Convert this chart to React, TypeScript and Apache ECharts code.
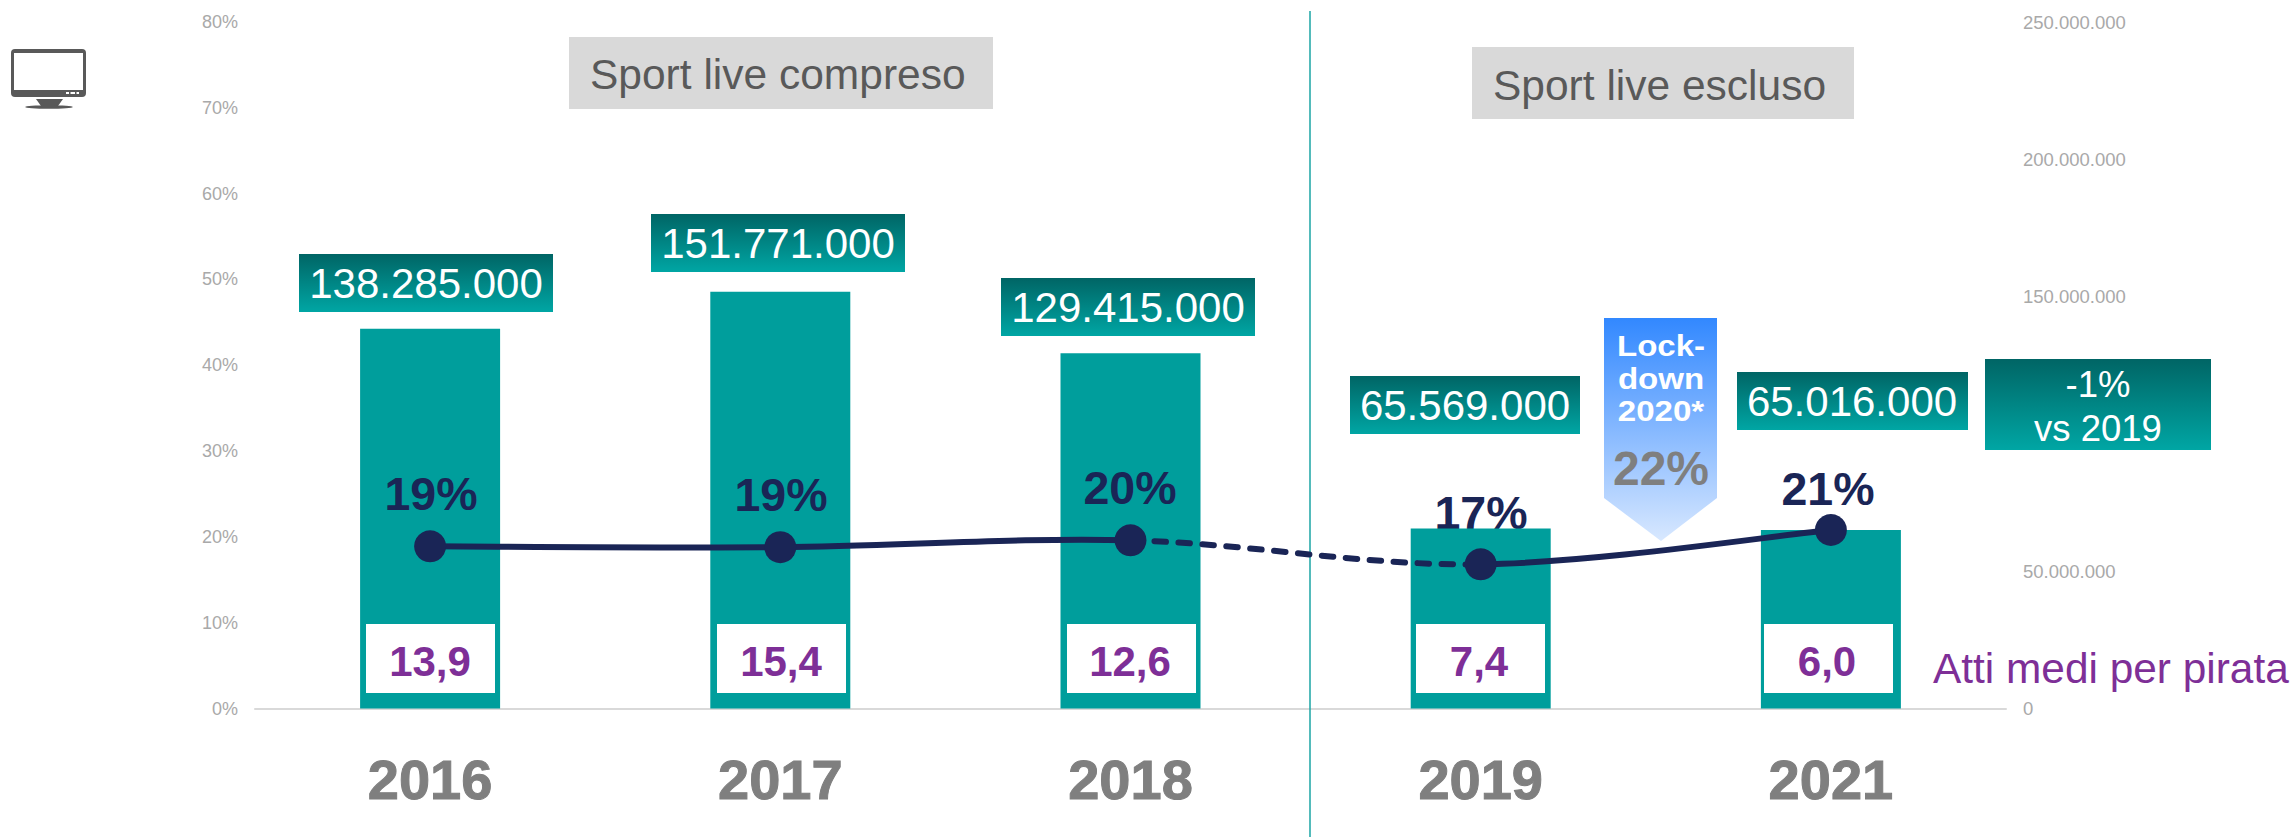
import React, { useEffect, useRef } from "react";
import * as echarts from "echarts";

const years = ["2016", "2017", "2018", "2019", "2021"];
const audience = [138285000, 151771000, 129415000, 65569000, 65016000];
const piracyShare = [18.9, 18.8, 19.6, 16.8, 20.8];
const shareLabels = ["19%", "19%", "20%", "17%", "21%"];
const actsLabels = ["13,9", "15,4", "12,6", "7,4", "6,0"];
const dashedSegment = [false, false, true, false];
const hiddenRightTick = 100000000;

const FONT = "'Liberation Sans', Arial, sans-serif";
const TEAL = "#009E9C";
const NAVY = "#1A2556";
const PURPLE = "#7E2F97";
const GREY = "#7F7F7F";
const AXIS_GREY = "#A9A9A9";

const dotted = (v: number) => String(v).replace(/\B(?=(\d{3})+(?!\d))/g, ".");

const tealGradient = {
  type: "linear", x: 0, y: 0, x2: 0, y2: 1,
  colorStops: [{ offset: 0, color: "#006565" }, { offset: 1, color: "#00A6A4" }],
};
const lockGradient = {
  type: "linear", x: 0, y: 0, x2: 0, y2: 1,
  colorStops: [{ offset: 0, color: "#3288FF" }, { offset: 1, color: "#D8E8FF" }],
};

const text = (
  x: number, y: number, t: string, font: string, fill: string,
  extra: Record<string, any> = {}, align = "center",
) => ({
  type: "text", x, y, z: 10, ...extra,
  style: { text: t, align, verticalAlign: "middle", font: `${font} ${FONT}`, fill },
});
const rect = (x0: number, y0: number, x1: number, y1: number, fill: any) => ({
  type: "rect", z: 10,
  shape: { x: x0, y: y0, width: x1 - x0, height: y1 - y0 },
  style: { fill },
});

const audienceBoxes = [
  [299, 254, 553, 312, 426, 283],
  [651, 214, 905, 272, 778, 243],
  [1001, 278, 1255, 336, 1128, 307],
  [1350, 376, 1580, 434, 1465, 405],
  [1737, 372, 1968, 430, 1852, 401],
];
const whiteBoxes = [[366, 495], [717, 846], [1067, 1196], [1416, 1545], [1764, 1893]];
const actsX = [430, 781, 1130, 1479, 1827];
const shareAnchors = [[431, 494], [781, 495], [1130, 488], [1481, 513], [1828, 489]];

function buildGraphics() {
  const els: any[] = [];
  // divider
  els.push({ type: "line", z: 1, shape: { x1: 1310, y1: 11, x2: 1310, y2: 837 }, style: { stroke: "#1AA5A5", lineWidth: 1.5 } });
  // section titles
  els.push(rect(569, 37, 993, 109, "#D9D9D9"));
  els.push(text(590, 74, "Sport live compreso", "42.5px", "#595959", {}, "left"));
  els.push(rect(1472, 47, 1854, 119, "#D9D9D9"));
  els.push(text(1493, 85, "Sport live escluso", "42.5px", "#595959", {}, "left"));
  // audience boxes
  audienceBoxes.forEach((b, i) => {
    els.push(rect(b[0], b[1], b[2], b[3], tealGradient));
    els.push(text(b[4], b[5], dotted(audience[i]), "42px", "#FFFFFF"));
  });
  // comparison box
  els.push(rect(1985, 359, 2211, 450, tealGradient));
  els.push(text(2098, 384, "-1%", "36.5px", "#FFFFFF"));
  els.push(text(2098, 428, "vs 2019", "36.5px", "#FFFFFF"));
  // acts boxes
  whiteBoxes.forEach((b, i) => {
    els.push(rect(b[0], 624, b[1], 693, "#FFFFFF"));
    els.push(text(actsX[i], 661, actsLabels[i], "bold 42px", PURPLE));
  });
  els.push(text(1933, 668, "Atti medi per pirata", "42.4px", PURPLE, {}, "left"));
  // share labels
  shareAnchors.forEach((a, i) => {
    els.push(text(a[0], a[1], shareLabels[i], "bold 46.5px", NAVY, { z: i === 3 ? 1 : 10 }));
  });
  // lockdown arrow
  els.push({
    type: "polygon", z: 10,
    shape: { points: [[1604, 318], [1717, 318], [1717, 498], [1661, 541], [1604, 498]] },
    style: { fill: lockGradient },
  });
  ["Lock-", "down", "2020*"].forEach((t, i) => {
    els.push(text(1661, [346, 379, 411][i], t, "bold 29px", "#FFFFFF", { scaleX: 1.14 }));
  });
  els.push(text(1661, 468, "22%", "bold 48px", GREY));
  // monitor icon
  els.push({ type: "rect", z: 10, shape: { x: 11, y: 49, width: 75, height: 48, r: 4 }, style: { fill: "#595959" } });
  els.push(rect(14, 53, 83, 90, "#FFFFFF"));
  els.push(rect(66, 92, 69, 94, "#FFFFFF"));
  els.push(rect(70.5, 92, 75, 94, "#FFFFFF"));
  els.push(rect(76.5, 92, 79, 94, "#FFFFFF"));
  els.push({ type: "polygon", z: 10, shape: { points: [[36, 99], [63, 99], [58, 106], [41, 106]] }, style: { fill: "#595959" } });
  els.push({ type: "ellipse", z: 10, shape: { cx: 49, cy: 107, rx: 24, ry: 1.8 }, style: { fill: "#595959" } });
  return els;
}

function renderSegment(params: any, api: any) {
  const i = params.dataIndex;
  if (i >= piracyShare.length - 1) return null;
  const pt = (k: number) => {
    const j = Math.max(0, Math.min(piracyShare.length - 1, k));
    return api.coord([j, piracyShare[j]]);
  };
  const p0 = pt(i - 1), p1 = pt(i), p2 = pt(i + 1), p3 = pt(i + 2);
  return {
    type: "bezierCurve",
    shape: {
      x1: p1[0], y1: p1[1], x2: p2[0], y2: p2[1],
      cpx1: p1[0] + (p2[0] - p0[0]) / 6, cpy1: p1[1] + (p2[1] - p0[1]) / 6,
      cpx2: p2[0] - (p3[0] - p1[0]) / 6, cpy2: p2[1] - (p3[1] - p1[1]) / 6,
    },
    style: {
      fill: null,
      stroke: NAVY,
      lineWidth: 6,
      lineCap: dashedSegment[i] ? "round" : "butt",
      lineDash: dashedSegment[i] ? [11.5, 12.5] : null,
    },
  };
}

export default function App() {
  const ref = useRef<HTMLDivElement>(null);
  useEffect(() => {
    const chart = echarts.init(ref.current!, null, { renderer: "svg" });
    chart.setOption({
      animation: false,
      backgroundColor: "#FFFFFF",
      textStyle: { fontFamily: FONT },
      grid: { left: 255, right: 289, top: 22, bottom: 128.5, containLabel: false },
      xAxis: {
        type: "category",
        data: years,
        axisTick: { show: false },
        axisLine: { show: true, lineStyle: { color: "#D9D9D9", width: 2 } },
        axisLabel: {
          fontSize: 56, fontWeight: "bold", color: GREY, margin: 43, fontFamily: FONT,
          textBorderColor: GREY, textBorderWidth: 1,
        },
      },
      yAxis: [
        {
          type: "value", min: 0, max: 80, interval: 10,
          splitLine: { show: false }, axisLine: { show: false }, axisTick: { show: false },
          axisLabel: { formatter: "{value}%", fontSize: 18, color: AXIS_GREY, margin: 17, fontFamily: FONT },
        },
        {
          type: "value", min: 0, max: 250000000, interval: 50000000,
          splitLine: { show: false }, axisLine: { show: false }, axisTick: { show: false },
          axisLabel: {
            formatter: (v: number) => (v === hiddenRightTick ? "" : dotted(v)),
            fontSize: 18.5, color: AXIS_GREY, margin: 17, fontFamily: FONT,
          },
        },
      ],
      series: [
        {
          type: "bar", yAxisIndex: 1, data: audience, barWidth: 140, z: 2,
          itemStyle: { color: TEAL },
        },
        {
          type: "custom", yAxisIndex: 0, z: 5, silent: true,
          data: piracyShare.map((v, i) => [i, v]),
          encode: { x: 0, y: 1 },
          renderItem: renderSegment,
        },
        {
          type: "line", yAxisIndex: 0, data: piracyShare, z: 6,
          symbol: "circle", symbolSize: 32, showSymbol: true,
          lineStyle: { opacity: 0 },
          itemStyle: { color: NAVY },
        },
      ],
      graphic: { elements: buildGraphics() },
    });
    return () => chart.dispose();
  }, []);
  return <div ref={ref} style={{ position: "absolute", left: 0, top: 0, width: 2295, height: 837 }} />;
}
